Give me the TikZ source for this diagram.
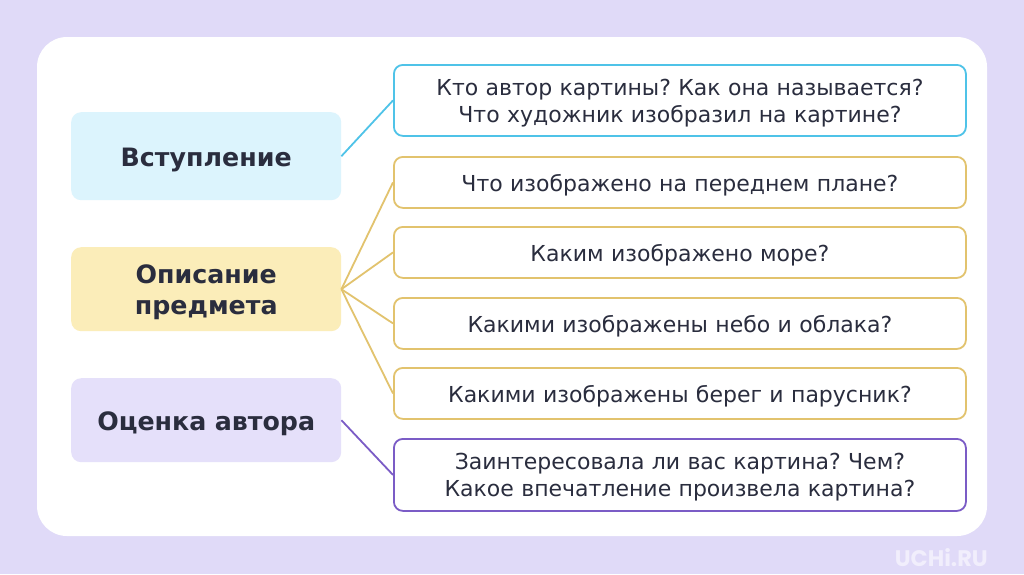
\documentclass[tikz,border=0pt]{standalone}
\usepackage{fontspec}
\setmainfont{DejaVu Sans}
\newfontfamily\logofont{Poppins}
\definecolor{bgl}{HTML}{E0DAF8}
\definecolor{txt}{HTML}{2A2D3E}
\definecolor{cblue}{HTML}{4FC3E8}
\definecolor{fblue}{HTML}{DCF4FD}
\definecolor{cyel}{HTML}{E2C36E}
\definecolor{fyel}{HTML}{FBEDB9}
\definecolor{cpur}{HTML}{7B5CC6}
\definecolor{fpur}{HTML}{E5E0FA}
\definecolor{logoc}{HTML}{F1EEFC}
\frenchspacing
\begin{document}
\begin{tikzpicture}[x=1pt,y=-1pt,
  leftbox/.style={rounded corners=10pt, minimum width=270pt, anchor=north west, inner sep=0pt},
  lefttext/.style={text width=260pt, align=center, yshift=-3.5pt,
     font=\fontsize{25.3}{31}\selectfont\bfseries, text=txt, inner sep=0pt},
  qbox/.style={draw, line width=1.8pt, rounded corners=9pt, fill=white, minimum width=572pt,
     anchor=north west, inner sep=0pt},
  qtext/.style={text width=560pt, align=center, yshift=-2.5pt,
     font=\fontsize{22}{27}\selectfont, text=txt, inner sep=0pt},
  link/.style={line width=1.8pt}]
\useasboundingbox (0,0) rectangle (1024,574);
\fill[bgl] (0,0) rectangle (1024,574);
\fill[white, rounded corners=30pt] (37,37) rectangle (987,536);
% left boxes
\node[leftbox, fill=fblue, minimum height=88pt, label={[lefttext]center:Вступление}] (intro) at (71,112) {};
\node[leftbox, fill=fyel, minimum height=84pt, label={[lefttext]center:{Описание\\предмета}}] (desc) at (71,247) {};
\node[leftbox, fill=fpur, minimum height=84pt, label={[lefttext]center:Оценка автора}] (eval) at (71,378) {};
% question boxes
\node[qbox, draw=cblue, minimum height=71pt, label={[qtext]center:{Кто автор картины? Как она называется?\\Что художник изобразил на картине?}}] (q1) at (393,64) {};
\node[qbox, draw=cyel, minimum height=51pt, label={[qtext]center:Что изображено на переднем плане?}] (q2) at (393,156) {};
\node[qbox, draw=cyel, minimum height=51pt, label={[qtext]center:Каким изображено море?}] (q3) at (393,226) {};
\node[qbox, draw=cyel, minimum height=51pt, label={[qtext]center:Какими изображены небо и облака?}] (q4) at (393,297) {};
\node[qbox, draw=cyel, minimum height=51pt, label={[qtext]center:Какими изображены берег и парусник?}] (q5) at (393,367) {};
\node[qbox, draw=cpur, minimum height=72pt, label={[qtext]center:{Заинтересовала ли вас картина? Чем?\\Какое впечатление произвела картина?}}] (q6) at (393,438) {};
% connectors
\draw[link, cblue] (intro.east) -- (q1.west);
\foreach \q in {q2,q3,q4,q5} \draw[link, cyel] (desc.east) -- (\q.west);
\draw[link, cpur] (eval.east) -- (q6.west);
% logo
\node[font=\logofont\fontsize{22.5}{22}\selectfont\bfseries, text=logoc, anchor=east, inner sep=0pt] (logo) at (988,558) {UCHi.RU};
\end{tikzpicture}
\end{document}
